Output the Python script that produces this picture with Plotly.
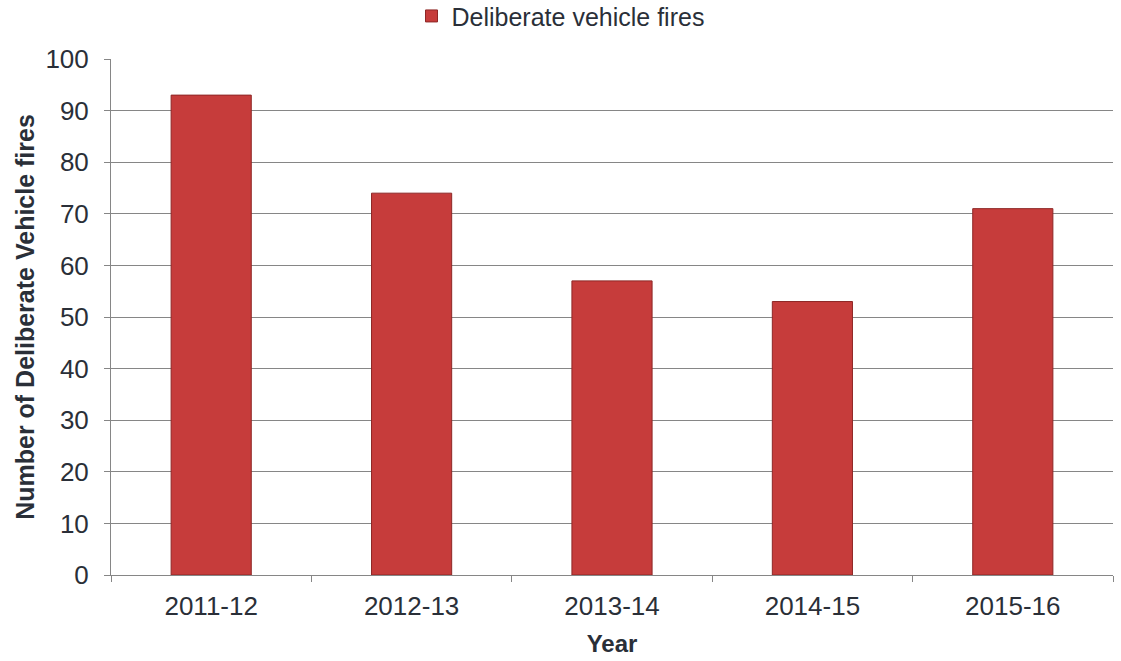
import plotly.graph_objects as go

years = ["2011-12", "2012-13", "2013-14", "2014-15", "2015-16"]
fires = [93, 74, 57, 53, 71]
series_name = "Deliberate vehicle fires"
y_ticks = list(range(0, 101, 10))

fig = go.Figure()
fig.add_trace(go.Bar(
    x=years,
    y=fires,
    name=series_name,
    marker=dict(color="#c63c3b", line=dict(color="#8e2726", width=1)),
    showlegend=True,
))

font_family = "Liberation Sans, Arial, sans-serif"
text_color = "#2a2f38"
axis_grey = "#868686"
fig.update_layout(
    width=1121,
    height=661,
    margin=dict(l=111, r=8, t=59, b=86, autoexpand=False),
    paper_bgcolor="white",
    plot_bgcolor="white",
    font=dict(family=font_family, size=26, color=text_color),
    bargap=0.6,
    showlegend=True,
    legend=dict(
        orientation="h",
        x=0.5, xref="container", xanchor="center",
        y=1.083, yref="paper", yanchor="middle",
        font=dict(size=25),
        itemwidth=30,
    ),
    xaxis=dict(
        type="category",
        title=dict(text="<b>Year</b>", font=dict(size=24), standoff=14),
        showline=True, linecolor=axis_grey, linewidth=1,
        ticks="outside", tickson="boundaries", ticklen=6, tickcolor=axis_grey,
        showgrid=False,
        tickfont=dict(size=26),
        ticklabelstandoff=8,
    ),
    yaxis=dict(
        title=dict(text="<b>Number of Deliberate Vehicle fires</b>", font=dict(size=25), standoff=3),
        range=[0, 100],
        tickvals=y_ticks,
        showline=True, linecolor=axis_grey, linewidth=1,
        ticks="outside", ticklen=6, tickcolor=axis_grey,
        showgrid=True, gridcolor=axis_grey, gridwidth=1,
        zeroline=False,
        tickfont=dict(size=26),
        ticklabelstandoff=10,
    ),
)

fig.write_html("out.html")
